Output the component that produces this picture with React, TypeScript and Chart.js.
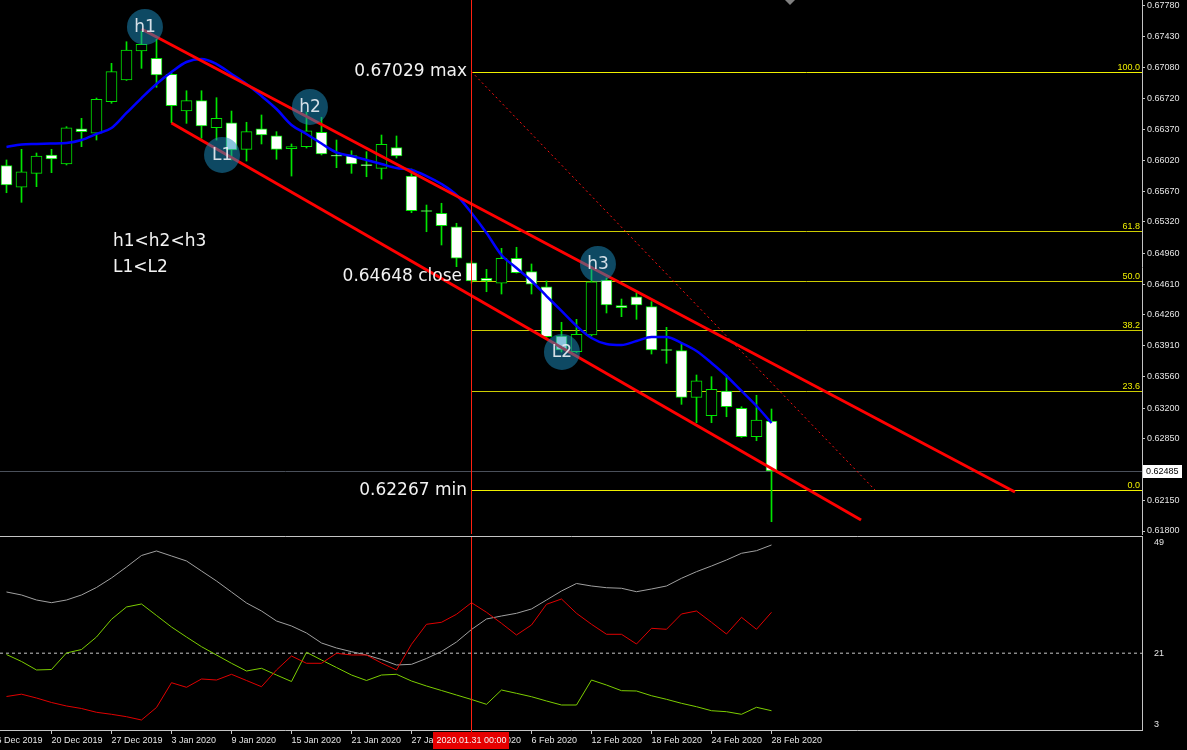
import { useEffect, useRef } from "react";
import { Chart, registerables } from "chart.js";

Chart.register(...registerables);

// ---------- data ----------
const barDates = [
  "17 Dec 2019", "18 Dec 2019", "19 Dec 2019", "20 Dec 2019", "23 Dec 2019", "24 Dec 2019", "26 Dec 2019", "27 Dec 2019", "30 Dec 2019", "31 Dec 2019",
  "2 Jan 2020", "3 Jan 2020", "6 Jan 2020", "7 Jan 2020", "8 Jan 2020", "9 Jan 2020", "10 Jan 2020", "13 Jan 2020", "14 Jan 2020", "15 Jan 2020",
  "16 Jan 2020", "17 Jan 2020", "20 Jan 2020", "21 Jan 2020", "22 Jan 2020", "23 Jan 2020", "24 Jan 2020", "27 Jan 2020", "28 Jan 2020", "29 Jan 2020",
  "30 Jan 2020", "31 Jan 2020", "3 Feb 2020", "4 Feb 2020", "5 Feb 2020", "6 Feb 2020", "7 Feb 2020", "10 Feb 2020", "11 Feb 2020", "12 Feb 2020",
  "13 Feb 2020", "14 Feb 2020", "17 Feb 2020", "18 Feb 2020", "19 Feb 2020", "20 Feb 2020", "21 Feb 2020", "24 Feb 2020", "25 Feb 2020", "26 Feb 2020",
  "27 Feb 2020", "28 Feb 2020",
];
const leadDate = "16 Dec 2019";

const opens = [
  0.65959, 0.65713, 0.65872, 0.66081, 0.65978, 0.66377, 0.66328, 0.66687, 0.66934, 0.67264,
  0.67181, 0.66999, 0.66581, 0.66699, 0.66391, 0.66448, 0.66145, 0.66377, 0.66300, 0.66152,
  0.66175, 0.66339, 0.66075, 0.66073, 0.65963, 0.65929, 0.66164, 0.65841, 0.65449, 0.65417,
  0.65264, 0.64854, 0.64677, 0.64620, 0.64905, 0.64752, 0.64581, 0.64020, 0.63841, 0.64031,
  0.64658, 0.64367, 0.64467, 0.64354, 0.63866, 0.63853, 0.63322, 0.63113, 0.63394, 0.63197,
  0.62874, 0.63052,
];
const highs = [
  0.66024, 0.66145, 0.66103, 0.66145, 0.66403, 0.66498, 0.66729, 0.67124, 0.67370, 0.67490,
  0.67398, 0.67011, 0.66812, 0.66812, 0.66733, 0.66581, 0.66453, 0.66536, 0.66346, 0.66206,
  0.66570, 0.66510, 0.66251, 0.66129, 0.66118, 0.66308, 0.66297, 0.65921, 0.65511, 0.65531,
  0.65303, 0.64874, 0.64779, 0.65018, 0.65030, 0.64840, 0.64646, 0.64176, 0.64210, 0.64809,
  0.64680, 0.64441, 0.64510, 0.64411, 0.64119, 0.63937, 0.63576, 0.63557, 0.63576, 0.63215,
  0.63345, 0.63189,
];
const lows = [
  0.65651, 0.65542, 0.65720, 0.65879, 0.65967, 0.66175, 0.66251, 0.66669, 0.66929, 0.67067,
  0.66851, 0.66448, 0.66441, 0.66271, 0.66251, 0.66024, 0.66012, 0.66206, 0.66032, 0.65841,
  0.66160, 0.66081, 0.65936, 0.65872, 0.65833, 0.65807, 0.66046, 0.65424, 0.65207, 0.65056,
  0.64809, 0.64623, 0.64524, 0.64498, 0.64737, 0.64498, 0.64003, 0.63838, 0.63832, 0.64020,
  0.64282, 0.64240, 0.64210, 0.63815, 0.63709, 0.63242, 0.63033, 0.63033, 0.63101, 0.62865,
  0.62828, 0.61906,
];
const closes = [
  0.65739, 0.65890, 0.66069, 0.66035, 0.66391, 0.66346, 0.66715, 0.67029, 0.67276, 0.67341,
  0.66991, 0.66642, 0.66699, 0.66411, 0.66498, 0.66137, 0.66346, 0.66308, 0.66145, 0.66175,
  0.66357, 0.66092, 0.66066, 0.65978, 0.65959, 0.66202, 0.66069, 0.65446, 0.65437, 0.65276,
  0.64905, 0.64646, 0.64646, 0.64905, 0.64741, 0.64609, 0.64012, 0.63861, 0.64039, 0.64638,
  0.64373, 0.64342, 0.64373, 0.63861, 0.63855, 0.63322, 0.63511, 0.63413, 0.63215, 0.62874,
  0.63064, 0.62485,
];
const maValues = [
  0.66172, 0.66200, 0.66206, 0.66211, 0.66217, 0.66251, 0.66320, 0.66388, 0.66559, 0.66729,
  0.66889, 0.67025, 0.67139, 0.67173, 0.67116, 0.67003, 0.66889, 0.66752, 0.66604, 0.66422,
  0.66320, 0.66211, 0.66109, 0.66069, 0.66024, 0.65978, 0.65933, 0.65910, 0.65841, 0.65750,
  0.65625, 0.65420, 0.65193, 0.64942, 0.64794, 0.64646, 0.64475, 0.64305, 0.64134, 0.63997,
  0.63929, 0.63918, 0.63963, 0.64009, 0.64009, 0.63940, 0.63849, 0.63713, 0.63565, 0.63394,
  0.63223, 0.63030,
];
const adxValues = [
  36.55, 35.79, 34.51, 33.83, 34.51, 35.79, 37.69, 40.11, 42.90, 45.82,
  46.97, 45.70, 44.43, 41.88, 39.34, 36.55, 33.75, 31.72, 29.18, 27.91,
  26.13, 23.59, 22.32, 21.38, 20.54, 19.39, 18.00, 18.17, 19.65, 21.43,
  23.84, 27.02, 29.69, 30.45, 31.13, 32.23, 34.51, 36.80, 38.71, 38.07,
  37.64, 37.49, 36.62, 37.31, 38.07, 40.03, 41.71, 43.15, 44.68, 46.38,
  47.04, 48.49,
];
const plusDi = [
  20.66, 18.89, 16.73, 16.85, 21.05, 21.93, 25.11, 29.61, 32.74, 33.50,
  30.58, 27.65, 25.11, 22.65, 20.54, 18.43, 16.47, 17.16, 15.45, 13.80,
  21.22, 19.27, 17.36, 15.45, 14.06, 15.45, 15.63, 13.93, 12.66, 11.52,
  10.37, 9.23, 8.01, 11.64, 10.80, 9.94, 8.85, 7.83, 7.83, 14.18,
  12.91, 11.47, 11.39, 10.19, 9.28, 8.26, 7.40, 6.38, 6.13, 5.47,
  7.25, 6.38,
];
const minusDi = [
  9.99, 10.58, 9.61, 8.47, 7.58, 6.94, 5.98, 5.47, 4.86, 4.02,
  7.20, 13.50, 12.33, 14.44, 14.18, 15.63, 14.06, 12.48, 16.73, 20.28,
  18.43, 18.43, 20.97, 20.54, 20.54, 18.50, 16.73, 23.26, 28.34, 28.85,
  30.88, 33.83, 31.39, 28.59, 25.62, 28.16, 33.42, 34.77, 31.13, 28.34,
  25.80, 25.80, 23.33, 27.32, 27.07, 30.96, 31.72, 28.85, 25.87, 30.12,
  27.07, 31.39,
];

const priceTicks = [
  0.6778, 0.6743, 0.6708, 0.6672, 0.6637, 0.6602, 0.6567, 0.6532, 0.6496,
  0.6461, 0.6426, 0.6391, 0.6356, 0.632, 0.6285, 0.6215, 0.618,
];
const adxTicks = [49, 21, 3];
const adxLevel = 21;
const lastPrice = 0.62485;

const fibMax = 0.67029;
const fibMin = 0.62267;
const fibLevels = [100, 61.8, 50, 38.2, 23.6, 0];
const fibStartBar = 31;
const fibTrendEndBar = 57.9;
const fibPrice = (level: number) => fibMin + ((fibMax - fibMin) * level) / 100;

const cursorBar = 31;
const cursorLabel = "2020.01.31 00:00";
const axisTickBars = [-1, 3, 7, 11, 15, 19, 23, 27, 31, 35, 39, 43, 47, 51];

const channelUpper = [
  { x: 9, y: 0.67515 },
  { x: 67.23, y: 0.62244 },
];
const channelLower = [
  { x: 11, y: 0.66445 },
  { x: 56.97, y: 0.61925 },
];

const markers = [
  { label: "h1", x: 9.23, y: 0.67538 },
  { label: "h2", x: 20.23, y: 0.66627 },
  { label: "L1", x: 14.37, y: 0.66081 },
  { label: "h3", x: 39.43, y: 0.6484 },
  { label: "L2", x: 37.03, y: 0.63838 },
];

const notes = [
  { text: `${fibMax.toFixed(5)} max`, x: 30.7, y: fibMax, align: "right" },
  { text: `${fibPrice(50).toFixed(5)} close`, x: 30.37, y: 0.64692, align: "right" },
  { text: `${fibMin.toFixed(5)} min`, x: 30.7, y: 0.62255, align: "right" },
  { text: "h1<h2<h3", x: 7.1, y: 0.6509, align: "left" },
  { text: "L1<L2", x: 7.1, y: 0.64794, align: "left" },
];

const shiftBar = 52.23;

// ---------- scale ranges ----------
const xMin = -0.4333;
const xMax = 75.7;
const priceMin = 0.61766;
const priceMax = 0.67845;
const adxMin = 1.48;
const adxMax = 50.52;

// ---------- styles ----------
const GREEN = "#00e600";
const AXIS = "#c4c4c4";
const LABEL = "#e4e4e4";
const SMALL_FONT = { family: "Liberation Sans", size: 9 };
const CURSOR = "#ff2010";
const FIB_MAIN = "#f0f000";
const FIB_MID = "#cccc00";

export default function App() {
  const mainRef = useRef<HTMLCanvasElement>(null);
  const subRef = useRef<HTMLCanvasElement>(null);

  useEffect(() => {
    document.body.style.margin = "0";
    document.body.style.background = "#000";

    const candleData = opens.map((o, i) => ({ x: i, y: [o, closes[i]] }));
    const wickData = lows.map((l, i) => ({ x: i, y: [l, highs[i]] }));
    const bodyColors = opens.map((o, i) => (closes[i] < o ? "#ffffff" : "#000000"));

    const mainOverlay = {
      id: "mainOverlay",
      beforeDatasetsDraw(chart: any) {
        const { ctx, chartArea, scales } = chart;
        const xs = scales.x;
        const ys = scales.y;
        ctx.save();
        ctx.lineWidth = 1;
        // bid line across the whole panel
        const by = Math.round(ys.getPixelForValue(lastPrice)) + 0.5;
        ctx.strokeStyle = "#4a505a";
        ctx.beginPath();
        ctx.moveTo(chartArea.left, by);
        ctx.lineTo(chartArea.right, by);
        ctx.stroke();
        // fibonacci levels (crisp 1px)
        const fx = Math.round(xs.getPixelForValue(fibStartBar));
        fibLevels.forEach((l) => {
          const y = Math.round(ys.getPixelForValue(fibPrice(l))) + 0.5;
          ctx.strokeStyle = l === 0 || l === 100 ? FIB_MAIN : FIB_MID;
          ctx.beginPath();
          ctx.moveTo(fx, y);
          ctx.lineTo(chartArea.right, y);
          ctx.stroke();
        });
        ctx.restore();
      },
      afterDatasetsDraw(chart: any) {
        const { ctx, chartArea, scales } = chart;
        const xs = scales.x;
        const ys = scales.y;
        ctx.save();
        // cursor vertical line
        const vx = Math.round(xs.getPixelForValue(cursorBar)) + 0.5;
        ctx.strokeStyle = CURSOR;
        ctx.lineWidth = 1;
        ctx.beginPath();
        ctx.moveTo(vx, chartArea.top);
        ctx.lineTo(vx, chartArea.bottom);
        ctx.stroke();

        // fib level labels
        ctx.font = `9px "Liberation Sans"`;
        ctx.textAlign = "right";
        ctx.textBaseline = "bottom";
        fibLevels.forEach((l) => {
          const y = Math.round(ys.getPixelForValue(fibPrice(l)));
          ctx.fillStyle = FIB_MAIN;
          ctx.fillText(l.toFixed(1), chartArea.right - 2, y);
        });

        // notes
        ctx.font = `17px "DejaVu Sans"`;
        ctx.fillStyle = "#f2f2f2";
        ctx.textBaseline = "middle";
        notes.forEach((n) => {
          ctx.textAlign = n.align as CanvasTextAlign;
          ctx.fillText(n.text, xs.getPixelForValue(n.x), ys.getPixelForValue(n.y));
        });

        // marker circles
        markers.forEach((m) => {
          const cx = xs.getPixelForValue(m.x);
          const cy = ys.getPixelForValue(m.y);
          ctx.beginPath();
          ctx.arc(cx, cy, 18, 0, Math.PI * 2);
          ctx.fillStyle = "rgba(26,140,190,0.52)";
          ctx.fill();
          ctx.font = `17px "DejaVu Sans"`;
          ctx.textAlign = "center";
          ctx.textBaseline = "middle";
          ctx.fillStyle = "rgba(235,240,245,0.9)";
          ctx.fillText(m.label, cx, cy + 1);
        });

        // last price box on axis
        const py = Math.round(ys.getPixelForValue(lastPrice));
        ctx.fillStyle = "#ffffff";
        ctx.fillRect(chartArea.right + 1, py - 6, 39, 13);
        ctx.fillStyle = "#000000";
        ctx.font = `9px "Liberation Sans"`;
        ctx.textAlign = "left";
        ctx.textBaseline = "middle";
        ctx.fillText(lastPrice.toFixed(5), chartArea.right + 4, py + 0.5);

        // chart shift marker
        const sx = Math.round(xs.getPixelForValue(shiftBar));
        ctx.fillStyle = "#808080";
        ctx.beginPath();
        ctx.moveTo(sx - 5, chartArea.top);
        ctx.lineTo(sx + 5, chartArea.top);
        ctx.lineTo(sx, chartArea.top + 5);
        ctx.closePath();
        ctx.fill();
        ctx.restore();
      },
    };

    const mainChart = new Chart(mainRef.current as HTMLCanvasElement, {
      type: "bar",
      data: {
        datasets: [
          {
            type: "bar",
            data: wickData,
            backgroundColor: GREEN,
            barThickness: 1,
            grouped: false,
            order: 9,
          },
          {
            type: "bar",
            data: candleData,
            backgroundColor: bodyColors,
            borderColor: GREEN,
            borderWidth: 1,
            borderSkipped: false,
            barThickness: 11,
            minBarLength: 1,
            grouped: false,
            order: 8,
          },
          {
            type: "line",
            data: maValues.map((v, i) => ({ x: i, y: v })),
            borderColor: "#0000ff",
            borderWidth: 2.5,
            pointRadius: 0,
            cubicInterpolationMode: "monotone",
            order: 7,
          },
          {
            type: "line",
            data: [
              { x: fibStartBar, y: fibMax },
              { x: fibTrendEndBar, y: fibMin },
            ],
            borderColor: "#ff1010",
            borderDash: [2, 3],
            borderWidth: 1,
            pointRadius: 0,
            order: 6,
          },
          {
            type: "line",
            data: channelUpper,
            borderColor: "#ff0000",
            borderWidth: 3,
            pointRadius: 0,
            order: 5,
          },
          {
            type: "line",
            data: channelLower,
            borderColor: "#ff0000",
            borderWidth: 3,
            pointRadius: 0,
            order: 5,
          },
        ] as any,
      },
      options: {
        responsive: false,
        animation: false,
        devicePixelRatio: 1,
        events: [],
        layout: { padding: { left: 0, right: 0, top: 0, bottom: 6 } },
        plugins: { legend: { display: false }, tooltip: { enabled: false } },
        scales: {
          x: { type: "linear", min: xMin, max: xMax, offset: false, display: false },
          y: {
            type: "linear",
            position: "right",
            min: priceMin,
            max: priceMax,
            bounds: "data",
            afterBuildTicks: (s: any) => {
              s.ticks = priceTicks.map((v) => ({ value: v }));
            },
            afterFit: (s: any) => {
              s.width = 45;
              s.paddingTop = 0;
              s.paddingBottom = 0;
            },
            ticks: {
              autoSkip: false,
              color: LABEL,
              font: SMALL_FONT,
              padding: 2,
              callback: (v: any) => Number(v).toFixed(5),
            },
            grid: { drawOnChartArea: false, drawTicks: true, tickLength: 3, color: AXIS },
            border: { display: true, color: AXIS },
          },
        },
      } as any,
      plugins: [mainOverlay],
    });

    const subOverlay = {
      id: "subOverlay",
      afterDraw(chart: any) {
        const { ctx, chartArea, scales } = chart;
        const xs = scales.x;
        ctx.save();
        // top frame
        ctx.strokeStyle = AXIS;
        ctx.lineWidth = 1;
        ctx.beginPath();
        ctx.moveTo(0, chartArea.top - 0.5);
        ctx.lineTo(chartArea.right + 1, chartArea.top - 0.5);
        ctx.stroke();
        // cursor line
        const vx = Math.round(xs.getPixelForValue(cursorBar)) + 0.5;
        ctx.strokeStyle = CURSOR;
        ctx.beginPath();
        ctx.moveTo(vx, chartArea.top);
        ctx.lineTo(vx, chartArea.bottom + 2);
        ctx.stroke();
        // cursor date box
        ctx.font = `9px "Liberation Sans"`;
        const w = ctx.measureText(cursorLabel).width + 6;
        const bx = Math.round(vx - w / 2);
        ctx.fillStyle = "#e60000";
        ctx.fillRect(bx, chartArea.bottom + 2, Math.round(w), 17);
        ctx.fillStyle = "#f4f4f4";
        ctx.textAlign = "center";
        ctx.textBaseline = "middle";
        ctx.fillText(cursorLabel, vx, chartArea.bottom + 10.5);
        ctx.restore();
      },
    };

    const subChart = new Chart(subRef.current as HTMLCanvasElement, {
      type: "line",
      data: {
        datasets: [
          {
            data: [
              { x: xMin, y: adxLevel },
              { x: xMax, y: adxLevel },
            ],
            borderColor: "#c8c8c8",
            borderDash: [3, 3],
            borderWidth: 1,
            pointRadius: 0,
            order: 10,
          },
          {
            data: adxValues.map((v, i) => ({ x: i, y: v })),
            borderColor: "#a0a0a0",
            borderWidth: 1,
            pointRadius: 0,
            order: 3,
          },
          {
            data: plusDi.map((v, i) => ({ x: i, y: v })),
            borderColor: "#7ccd00",
            borderWidth: 1,
            pointRadius: 0,
            order: 2,
          },
          {
            data: minusDi.map((v, i) => ({ x: i, y: v })),
            borderColor: "#e00000",
            borderWidth: 1,
            pointRadius: 0,
            order: 1,
          },
        ] as any,
      },
      options: {
        responsive: false,
        animation: false,
        devicePixelRatio: 1,
        events: [],
        layout: { padding: { left: 0, right: 0, top: 2, bottom: 0 } },
        plugins: { legend: { display: false }, tooltip: { enabled: false } },
        scales: {
          x: {
            type: "linear",
            min: xMin,
            max: xMax,
            offset: false,
            position: "bottom",
            afterBuildTicks: (s: any) => {
              s.ticks = axisTickBars.map((v) => ({ value: v }));
            },
            afterFit: (s: any) => {
              s.height = 20;
              s.paddingLeft = 0;
              s.paddingRight = 0;
            },
            ticks: {
              autoSkip: false,
              maxRotation: 0,
              minRotation: 0,
              align: "start",
              color: LABEL,
              font: SMALL_FONT,
              padding: 1,
              callback: (v: any) => (v < 0 ? leadDate : barDates[v]),
            },
            grid: { drawOnChartArea: false, drawTicks: true, tickLength: 4, color: AXIS },
            border: { display: true, color: AXIS },
          },
          y: {
            type: "linear",
            position: "right",
            min: adxMin,
            max: adxMax,
            bounds: "data",
            afterBuildTicks: (s: any) => {
              s.ticks = adxTicks.map((v) => ({ value: v }));
            },
            afterFit: (s: any) => {
              s.width = 45;
              s.paddingTop = 0;
              s.paddingBottom = 0;
            },
            ticks: { autoSkip: false, color: LABEL, font: SMALL_FONT, padding: 4 },
            grid: { display: false },
            border: { display: true, color: AXIS },
          },
        },
      } as any,
      plugins: [subOverlay],
    });

    return () => {
      mainChart.destroy();
      subChart.destroy();
    };
  }, []);

  return (
    <div style={{ position: "relative", width: 1187, height: 750, background: "#000", overflow: "hidden" }}>
      <canvas ref={mainRef} width={1187} height={540} style={{ position: "absolute", left: 0, top: 0 }} />
      <canvas ref={subRef} width={1187} height={215} style={{ position: "absolute", left: 0, top: 535 }} />
    </div>
  );
}
